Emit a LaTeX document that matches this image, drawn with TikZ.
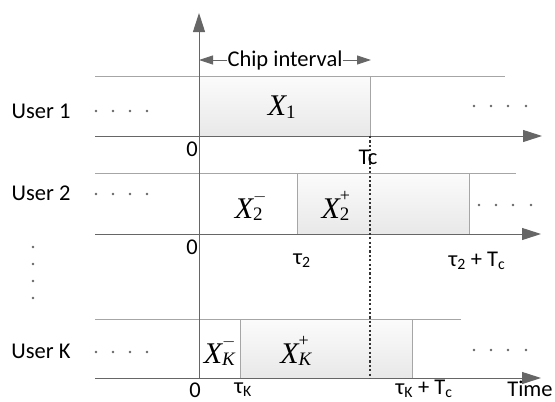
\documentclass[tikz,border=0pt]{standalone}
\usepackage{fontspec}
\setmainfont{Carlito}
\newfontfamily\tms{Liberation Serif}
\usetikzlibrary{arrows.meta}
\newcommand\XL[3]{$\hbox{\fontsize{30}{30}\tms\itshape X}^{\hbox{\fontsize{18}{18}\tms #2}}_{\hbox{\fontsize{19}{19}\tms #3}}$}
\tikzset{
  lab/.style={font=\fontsize{22.5}{22.5}\selectfont, inner sep=0pt},
  thinline/.style={draw=gray!70, line width=0.9pt},
  axisline/.style={draw=black!60, line width=1pt, -{Triangle[length=19pt,width=12pt]}},
  shadebox/.style={draw=gray!70, line width=0.9pt, top color=gray!3, bottom color=gray!18},
  whitebox/.style={draw=gray!70, line width=0.9pt, fill=white},
  chiparrow/.style={draw=black!60, line width=0.9pt, -{Triangle[length=14pt,width=9pt]}},
  dotrow/.style={fill=black!60},
}
\begin{document}
\begin{tikzpicture}[x=1pt,y=-1pt]
\useasboundingbox (0,0) rectangle (555,402);
% boxes
\node[shadebox, minimum width=171pt, minimum height=60pt, inner sep=0pt, anchor=north west] (b1) at (199,76) {};
\node[whitebox, minimum width=98pt, minimum height=61pt, inner sep=0pt, anchor=north west] (b2m) at (199,173) {};
\node[shadebox, minimum width=172pt, minimum height=61pt, inner sep=0pt, anchor=north west] (b2p) at (297,173) {};
\node[whitebox, minimum width=41pt, minimum height=59pt, inner sep=0pt, anchor=north west] (bkm) at (199,319) {};
\node[shadebox, minimum width=172pt, minimum height=59pt, inner sep=0pt, anchor=north west] (bkp) at (240,319) {};
% top lines
\coordinate (t1a) at (95,76); \coordinate (t1b) at (505,76);
\coordinate (t2a) at (95,173); \coordinate (t2b) at (516,173);
\coordinate (tka) at (95,319); \coordinate (tkb) at (461,319);
\draw[thinline] (t1a) -- (t1b);
\draw[thinline] (t2a) -- (t2b);
\draw[thinline] (tka) -- (tkb);
% axes
\coordinate (a1a) at (95,136); \coordinate (a1b) at (542,136);
\coordinate (a2a) at (95,234); \coordinate (a2b) at (541,234);
\coordinate (aka) at (95,378); \coordinate (akb) at (541,378);
\draw[axisline] (a1a) -- (a1b);
\draw[axisline] (a2a) -- (a2b);
\draw[axisline] (aka) -- (akb);
\coordinate (va) at (199,378); \coordinate (vb) at (199,13);
\draw[axisline] (va) -- (vb);
% dotted line
\coordinate (da) at (370,136); \coordinate (db) at (370,378);
\draw[black!80, line width=2.4pt, dash pattern=on 2.2pt off 2.2pt] (da) -- (db);
% chip interval
\node[lab] (chip) at (285,60) {Chip interval};
\coordinate (cl) at (199,60); \coordinate (cr) at (371,60);
\draw[chiparrow] (chip.west) -- (cl);
\draw[chiparrow] (chip.east) -- (cr);
% X labels
\node[inner sep=0pt] (x1) at (282,107) {\XL{X}{}{1}};
\node[inner sep=0pt] (x2m) at (251,206) {\XL{X}{$-$}{2}};
\node[inner sep=0pt] (x2p) at (336,206) {\XL{X}{+}{2}};
\node[inner sep=0pt] (xkm) at (220,351) {\XL{X}{$-$}{\itshape K}};
\node[inner sep=0pt] (xkp) at (296,351) {\XL{X}{+}{\itshape K}};
% user labels
\node[lab] (u1) at (41,111) {User 1};
\node[lab] (u2) at (41,193) {User 2};
\node[lab] (uk) at (41,351) {User K};
% dots
\foreach \x in {96,113,130,147} {
  \fill[dotrow] (\x,111) circle (1.3pt);
  \fill[dotrow] (\x,194) circle (1.3pt);
  \fill[dotrow] (\x,352) circle (1.3pt);
}
\foreach \x in {474,491,508,526} {
  \fill[dotrow] (\x,106) circle (1.3pt);
  \fill[dotrow] (\x+5,205) circle (1.3pt);
  \fill[dotrow] (\x,350) circle (1.3pt);
}
\foreach \y in {247,264,281,298} {
  \fill[dotrow] (33,\y) circle (1.3pt);
}
% axis labels
\node[lab] (z1) at (192,149) {0};
\node[lab] (tc) at (368,157) {Tc};
\node[lab] (z2) at (192,247) {0};
\node[lab] (tau2) at (302,261) {τ\textsubscript{2}};
\node[lab] (tau2tc) at (477,261) {τ\textsubscript{2} + T\textsubscript{c}};
\node[lab] (zk) at (195,390) {0};
\node[lab] (tauk) at (243,390) {τ\textsubscript{K}};
\node[lab] (taukt) at (424,389) {τ\textsubscript{K} + T\textsubscript{c}};
\node[lab] (time) at (530,389) {Time};
\end{tikzpicture}
\end{document}
